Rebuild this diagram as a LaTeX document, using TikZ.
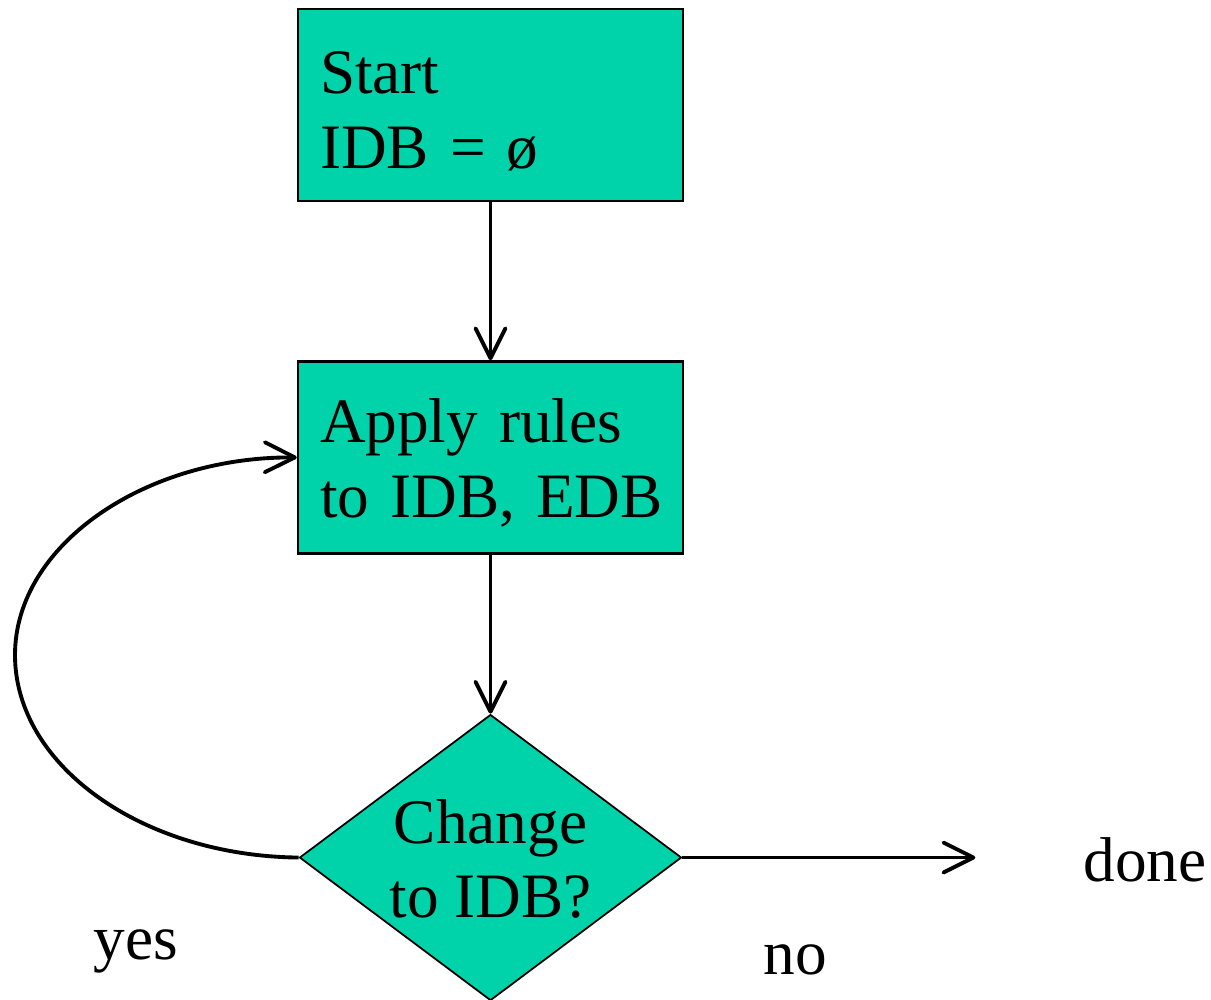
\documentclass[tikz,border=0pt]{standalone}
\usepackage{fontspec}
\setmainfont{Liberation Serif}
\usetikzlibrary{positioning,shapes.geometric,arrows.meta}
\definecolor{boxteal}{RGB}{0,211,170}
\tikzset{
    txt/.style={font=\fontsize{18}{21.3}\selectfont},
    stepbox/.style={txt,draw,fill=boxteal,line width=0.7pt,rectangle,minimum width=3.85cm,minimum height=1.92cm,text width=3.41cm,inner xsep=0.22cm,align=left,text height=0.55cm},
    testbox/.style={txt,draw,fill=boxteal,line width=0.5pt,diamond,aspect=1.336,inner xsep=0pt,inner ysep=-0.1cm,minimum width=3.82cm,minimum height=2.86cm},
    flow/.style={line width=1.1pt,-{Straight Barb[length=3mm,width=3mm,round]}},
}

\begin{document}
\begin{tikzpicture}
		\useasboundingbox (0,0) rectangle (12.11,-10);
		\node[stepbox] (start) at (4.905,-1.05) {Start\\IDB = ø};
		\node[stepbox,below=1.58cm of start] (apply) {Apply rules\\\mbox{to IDB, EDB}};
		\node[testbox,below=1.59cm of apply] (test) {\raisebox{-0.08cm}[\height][\depth]{\begin{tabular}{@{}c@{}}Change\\to IDB?\end{tabular}}};
		\coordinate[right=2.93cm of test.east] (stop);
		\node[txt,anchor=base west,inner sep=0pt] (done) at (10.83,-8.82) {done};
		\node[txt,anchor=base west,inner sep=0pt] (yes) at (0.93,-9.60) {yes};
		\node[txt,anchor=base west,inner sep=0pt] (no) at (7.63,-9.75) {no};
		\draw[flow] (start) -- (apply);
		\draw[flow] (apply) -- (test);
		\draw[flow] (test.east) -- (stop);
		\draw[flow] (test.west) .. controls (1.43,-8.56) and (0.15,-7.66) .. (0.15,-6.55) .. controls (0.15,-5.45) and (1.45,-4.565) .. (apply.west);
	\end{tikzpicture}
\end{document}
